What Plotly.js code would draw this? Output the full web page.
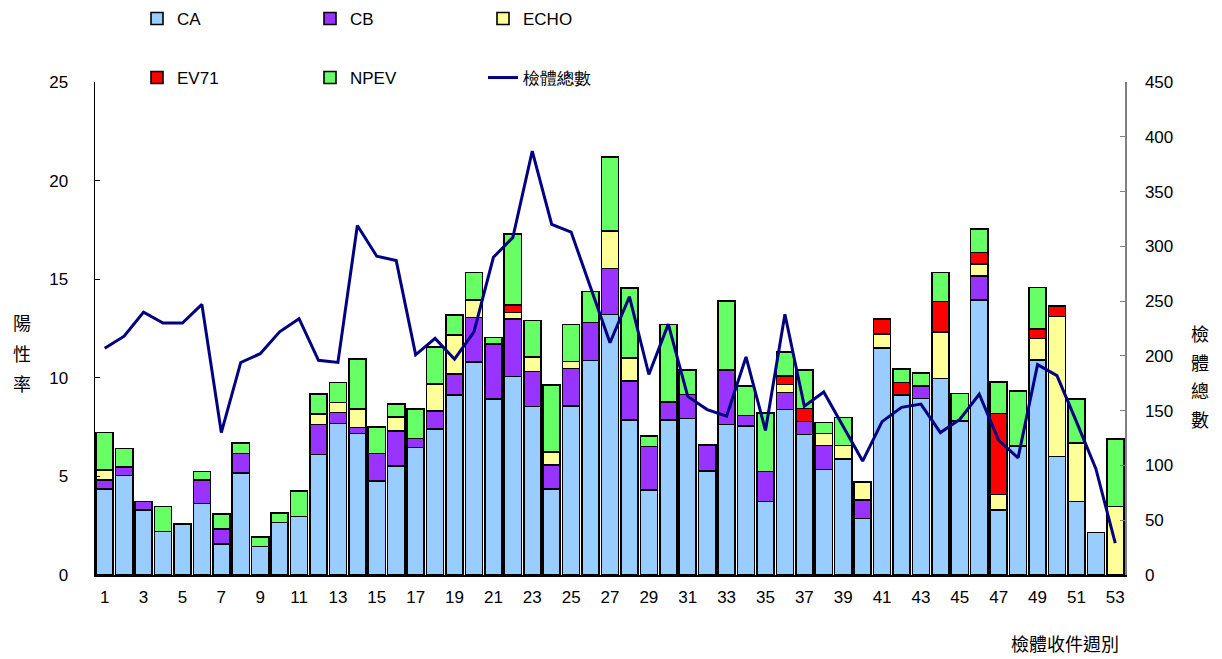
<!DOCTYPE html>
<html>
<head>
<meta charset="utf-8">
<script src="https://cdn.plot.ly/plotly-3.0.1.min.js"></script>
<style>html,body{margin:0;padding:0;background:#fff;}#chart{width:1222px;height:659px;}</style>
</head>
<body>
<div id="chart"></div>
<script>
const weeks = Array.from({length: 53}, (_, i) => i + 1);
const tickWeeks = [1,3,5,7,9,11,13,15,17,19,21,23,25,27,29,31,33,35,37,39,41,43,45,47,49,51,53];

const CA   = [4.35,5.04,3.30,2.20,2.59,3.63,1.56,5.16,1.44,2.67,2.96,6.12,7.69,7.18,4.77,5.54,6.46,7.39,9.13,10.79,8.92,10.06,8.54,4.36,8.57,10.87,13.22,7.86,4.31,7.86,7.94,5.27,7.64,7.56,3.72,8.40,7.13,5.36,5.87,2.87,11.50,9.13,8.96,9.97,7.81,13.95,3.30,6.54,10.90,6.00,3.72,2.15,0];
const CB   = [0.47,0.45,0.42,0,0,1.19,0.76,1.01,0,0,0,1.52,0.56,0.31,1.40,1.76,0.47,0.93,1.05,2.26,2.78,2.92,1.77,1.22,1.91,1.94,2.33,1.99,2.20,0.90,1.22,1.32,2.76,0.52,1.52,0.85,0.65,1.20,0,0.93,0,0,0.62,0,0,1.21,0,0,0,0,0,0,0];
const ECHO = [0.50,0,0,0,0,0,0,0,0,0,0,0.52,0.49,0.93,0,0.70,0,1.37,1.99,0.90,0,0.34,0.76,0.67,0.34,0,1.89,1.14,0,0,0,0,0,0,0,0.42,0,0.62,0.69,0.93,0.72,0,0,2.34,0,0.60,0.79,0,1.10,7.10,2.96,0,3.47];
const EV71 = [0,0,0,0,0,0,0,0,0,0,0,0,0,0,0,0,0,0,0,0,0,0.37,0,0,0,0,0,0,0,0,0,0,0,0,0,0.42,0.67,0,0,0,0.75,0.64,0,1.55,0,0.60,4.11,0,0.47,0.54,0,0,0];
const NPEV = [1.90,0.93,0,1.27,0,0.42,0.77,0.51,0.50,0.46,1.30,1.02,1.03,2.53,1.35,0.67,1.49,1.86,1.01,1.38,0.35,3.59,1.84,3.38,1.89,1.56,3.77,3.55,0.55,3.95,1.24,0,3.49,1.50,2.99,1.23,1.95,0.56,1.42,0,0,0.68,0.65,1.49,1.40,1.19,1.60,2.79,2.10,0,2.24,0,3.43];
const total = [207,218,240,230,230,247,130,194,202,222,234,196,194,319,291,287,201,216,197,222,290,308,387,320,313,262,212,254,183,229,163,151,145,199,132,238,154,167,136,104,140,153,156,130,142,165,123,107,192,182,140,97,29];

const seriesNames = ['CA','CB','ECHO','EV71','NPEV'];
const seriesData = [CA, CB, ECHO, EV71, NPEV];
const seriesColors = ['#99CCFF','#9933FF','#FFFF99','#FF0000','#66FF66'];
const lineName = '檢體總數';
const leftTitle = ['陽','性','率'];
const rightTitle = ['檢','體','總','數'];
const xTitle = '檢體收件週別';

const sansFont = 'Liberation Sans, Arial, sans-serif';
const cjkFont = 'Noto Sans CJK TC, sans-serif';

const traces = seriesNames.map((n, i) => ({
  type: 'bar',
  name: n,
  x: weeks,
  y: seriesData[i].map(v => v === 0 ? null : v),
  marker: {color: seriesColors[i], line: {color: '#000000', width: 1.6}},
  legend: i < 3 ? 'legend' : 'legend2'
}));
traces.push({
  type: 'scatter',
  mode: 'lines',
  name: lineName,
  x: weeks,
  y: total,
  yaxis: 'y2',
  line: {color: '#000080', width: 3},
  legend: 'legend2'
});

const legendCommon = {
  orientation: 'h',
  xref: 'container', yref: 'container',
  xanchor: 'left', yanchor: 'top',
  entrywidth: 128,
  bgcolor: 'rgba(0,0,0,0)',
  font: {family: sansFont, size: 17, color: '#000'},
  traceorder: 'normal'
};

// plot area in pixels: x 95..1125, y 82..575
const px = x => (x - 95) / 1030;
const py = y => (575 - y) / 493;

const annotations = [];
leftTitle.forEach((c, i) => annotations.push({
  text: c, xref: 'paper', yref: 'paper', x: px(22), y: py(322 + i*30.5),
  xanchor: 'center', yanchor: 'middle', showarrow: false,
  font: {family: cjkFont, size: 18, color: '#000'}
}));
rightTitle.forEach((c, i) => annotations.push({
  text: c, xref: 'paper', yref: 'paper', x: px(1200), y: py(333 + i*28.5),
  xanchor: 'center', yanchor: 'middle', showarrow: false,
  font: {family: cjkFont, size: 18, color: '#000'}
}));
annotations.push({
  text: xTitle, xref: 'paper', yref: 'paper', x: px(1065), y: py(643),
  xanchor: 'center', yanchor: 'middle', showarrow: false,
  font: {family: cjkFont, size: 18, color: '#000'}
});

const layout = {
  width: 1222, height: 659,
  paper_bgcolor: '#ffffff', plot_bgcolor: '#ffffff',
  margin: {l: 95, r: 97, t: 82, b: 84, autoexpand: false},
  barmode: 'stack',
  bargap: 0.12,
  showlegend: true,
  legend: Object.assign({}, legendCommon, {x: 137/1222, y: 1 - 1/659}),
  legend2: Object.assign({}, legendCommon, {x: 137/1222, y: 1 - 60/659}),
  xaxis: {
    range: [0.5, 53.5],
    tickmode: 'array', tickvals: tickWeeks, ticktext: tickWeeks.map(String),
    ticks: '', showgrid: false, zeroline: false,
    showline: true, linecolor: '#000', linewidth: 1.5,
    tickfont: {family: sansFont, size: 17, color: '#000'},
    ticklabelstandoff: 6
  },
  yaxis: {
    range: [0, 25], dtick: 5, tick0: 0,
    ticks: 'inside', ticklen: 5, tickcolor: '#000',
    showgrid: false, zeroline: false,
    showline: true, linecolor: '#000', linewidth: 1.5,
    tickfont: {family: sansFont, size: 17, color: '#000'},
    ticklabelstandoff: 22
  },
  yaxis2: {
    overlaying: 'y', side: 'right',
    range: [0, 450], dtick: 50, tick0: 0,
    ticks: 'inside', ticklen: 5, tickcolor: '#808080',
    showgrid: false, zeroline: false,
    showline: true, linecolor: '#808080', linewidth: 1.5,
    tickfont: {family: sansFont, size: 17, color: '#000'},
    ticklabelstandoff: 15
  },
  annotations: annotations
};

Plotly.newPlot('chart', traces, layout, {displayModeBar: false, staticPlot: true});
</script>
</body>
</html>
